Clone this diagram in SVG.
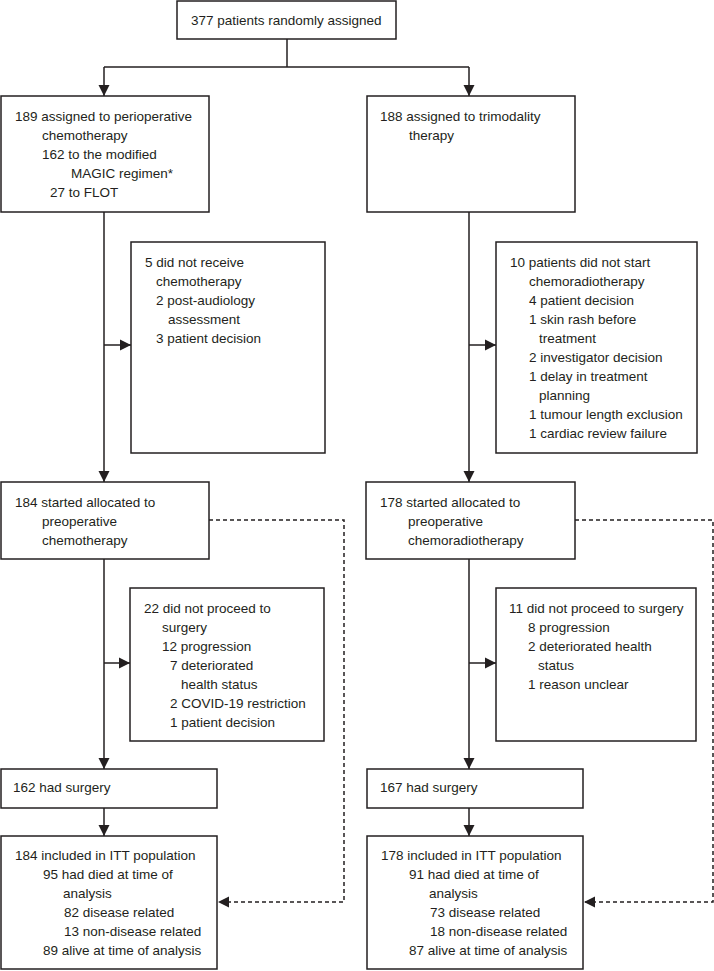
<svg xmlns="http://www.w3.org/2000/svg" width="714" height="971" viewBox="0 0 714 971">
<style>
.box{fill:#fff;stroke:#231f20;stroke-width:1.5}
.ln{fill:none;stroke:#231f20;stroke-width:1.5}
.dash{fill:none;stroke:#231f20;stroke-width:1.5;stroke-dasharray:4 3}
text{font-family:"Liberation Sans",Arial,sans-serif;font-size:13.5px;fill:#231f20}
</style>
<defs>
<marker id="ah" markerUnits="userSpaceOnUse" markerWidth="12" markerHeight="12" viewBox="0 0 12 12" refX="11" refY="6" orient="auto">
<path d="M0,0.5 L11,6 L0,11.5 Z" fill="#231f20"/>
</marker>
</defs>
<rect width="714" height="971" fill="#fff"/>
<g id="connectors">
<path class="ln" d="M287,39 V67"/>
<path class="ln" d="M104,67 H469"/>
<path class="ln" d="M104,67 V96" marker-end="url(#ah)"/>
<path class="ln" d="M469,67 V96" marker-end="url(#ah)"/>
<path class="ln" d="M104,212 V482" marker-end="url(#ah)"/>
<path class="ln" d="M104,345 H131" marker-end="url(#ah)"/>
<path class="ln" d="M469,212 V482" marker-end="url(#ah)"/>
<path class="ln" d="M469,345 H496" marker-end="url(#ah)"/>
<path class="ln" d="M104,559 V769" marker-end="url(#ah)"/>
<path class="ln" d="M104,663 H130" marker-end="url(#ah)"/>
<path class="ln" d="M469,559 V769" marker-end="url(#ah)"/>
<path class="ln" d="M469,663 H496" marker-end="url(#ah)"/>
<path class="ln" d="M104,808 V836" marker-end="url(#ah)"/>
<path class="ln" d="M469,808 V836" marker-end="url(#ah)"/>
<path class="dash" d="M209,520 H344 V902 H218" marker-end="url(#ah)"/>
<path class="dash" d="M575,520 H713 V902 H584" marker-end="url(#ah)"/>
</g>
<g id="n_random">
<rect class="box" x="177" y="1" width="219" height="38"/>
<text x="191" y="25">377 patients randomly assigned</text>
</g>
<g id="n_periop">
<rect class="box" x="1" y="96" width="208" height="116"/>
<text x="15" y="121">189 assigned to perioperative</text>
<text x="42" y="140">chemotherapy</text>
<text x="42" y="159">162 to the modified</text>
<text x="71" y="178">MAGIC regimen*</text>
<text x="50" y="197">27 to FLOT</text>
</g>
<g id="n_trimod">
<rect class="box" x="367" y="96" width="208" height="116"/>
<text x="380" y="121">188 assigned to trimodality</text>
<text x="409" y="140">therapy</text>
</g>
<g id="n_excl_chemo">
<rect class="box" x="131" y="242" width="194" height="211"/>
<text x="145" y="267">5 did not receive</text>
<text x="156" y="286">chemotherapy</text>
<text x="156" y="305">2 post-audiology</text>
<text x="168" y="324">assessment</text>
<text x="156" y="343">3 patient decision</text>
</g>
<g id="n_excl_crt">
<rect class="box" x="496" y="242" width="201" height="211"/>
<text x="510" y="267">10 patients did not start</text>
<text x="529" y="286">chemoradiotherapy</text>
<text x="529" y="305">4 patient decision</text>
<text x="529" y="324">1 skin rash before</text>
<text x="539" y="343">treatment</text>
<text x="529" y="362">2 investigator decision</text>
<text x="529" y="381">1 delay in treatment</text>
<text x="539" y="400">planning</text>
<text x="529" y="419">1 tumour length exclusion</text>
<text x="529" y="438">1 cardiac review failure</text>
</g>
<g id="n_started_chemo">
<rect class="box" x="1" y="482" width="208" height="77"/>
<text x="15" y="507">184 started allocated to</text>
<text x="42" y="526">preoperative</text>
<text x="42" y="545">chemotherapy</text>
</g>
<g id="n_started_crt">
<rect class="box" x="366" y="482" width="209" height="77"/>
<text x="380" y="507">178 started allocated to</text>
<text x="408" y="526">preoperative</text>
<text x="408" y="545">chemoradiotherapy</text>
</g>
<g id="n_nosurg_chemo">
<rect class="box" x="130" y="588" width="194" height="153"/>
<text x="144" y="613">22 did not proceed to</text>
<text x="162" y="632">surgery</text>
<text x="162" y="651">12 progression</text>
<text x="170" y="670">7 deteriorated</text>
<text x="181" y="689">health status</text>
<text x="170" y="708">2 COVID-19 restriction</text>
<text x="170" y="727">1 patient decision</text>
</g>
<g id="n_nosurg_crt">
<rect class="box" x="496" y="588" width="200" height="153"/>
<text x="509" y="613">11 did not proceed to surgery</text>
<text x="528" y="632">8 progression</text>
<text x="528" y="651">2 deteriorated health</text>
<text x="538" y="670">status</text>
<text x="528" y="689">1 reason unclear</text>
</g>
<g id="n_surg_chemo">
<rect class="box" x="1" y="769" width="216" height="39"/>
<text x="13" y="792">162 had surgery</text>
</g>
<g id="n_surg_crt">
<rect class="box" x="367" y="769" width="216" height="39"/>
<text x="380" y="792">167 had surgery</text>
</g>
<g id="n_itt_chemo">
<rect class="box" x="1" y="836" width="216" height="133"/>
<text x="15" y="860">184 included in ITT population</text>
<text x="43" y="879">95 had died at time of</text>
<text x="63" y="898">analysis</text>
<text x="64" y="917">82 disease related</text>
<text x="64" y="936">13 non-disease related</text>
<text x="43" y="955">89 alive at time of analysis</text>
</g>
<g id="n_itt_crt">
<rect class="box" x="367" y="836" width="216" height="133"/>
<text x="381" y="860">178 included in ITT population</text>
<text x="409" y="879">91 had died at time of</text>
<text x="429" y="898">analysis</text>
<text x="430" y="917">73 disease related</text>
<text x="430" y="936">18 non-disease related</text>
<text x="409" y="955">87 alive at time of analysis</text>
</g>
</svg>
